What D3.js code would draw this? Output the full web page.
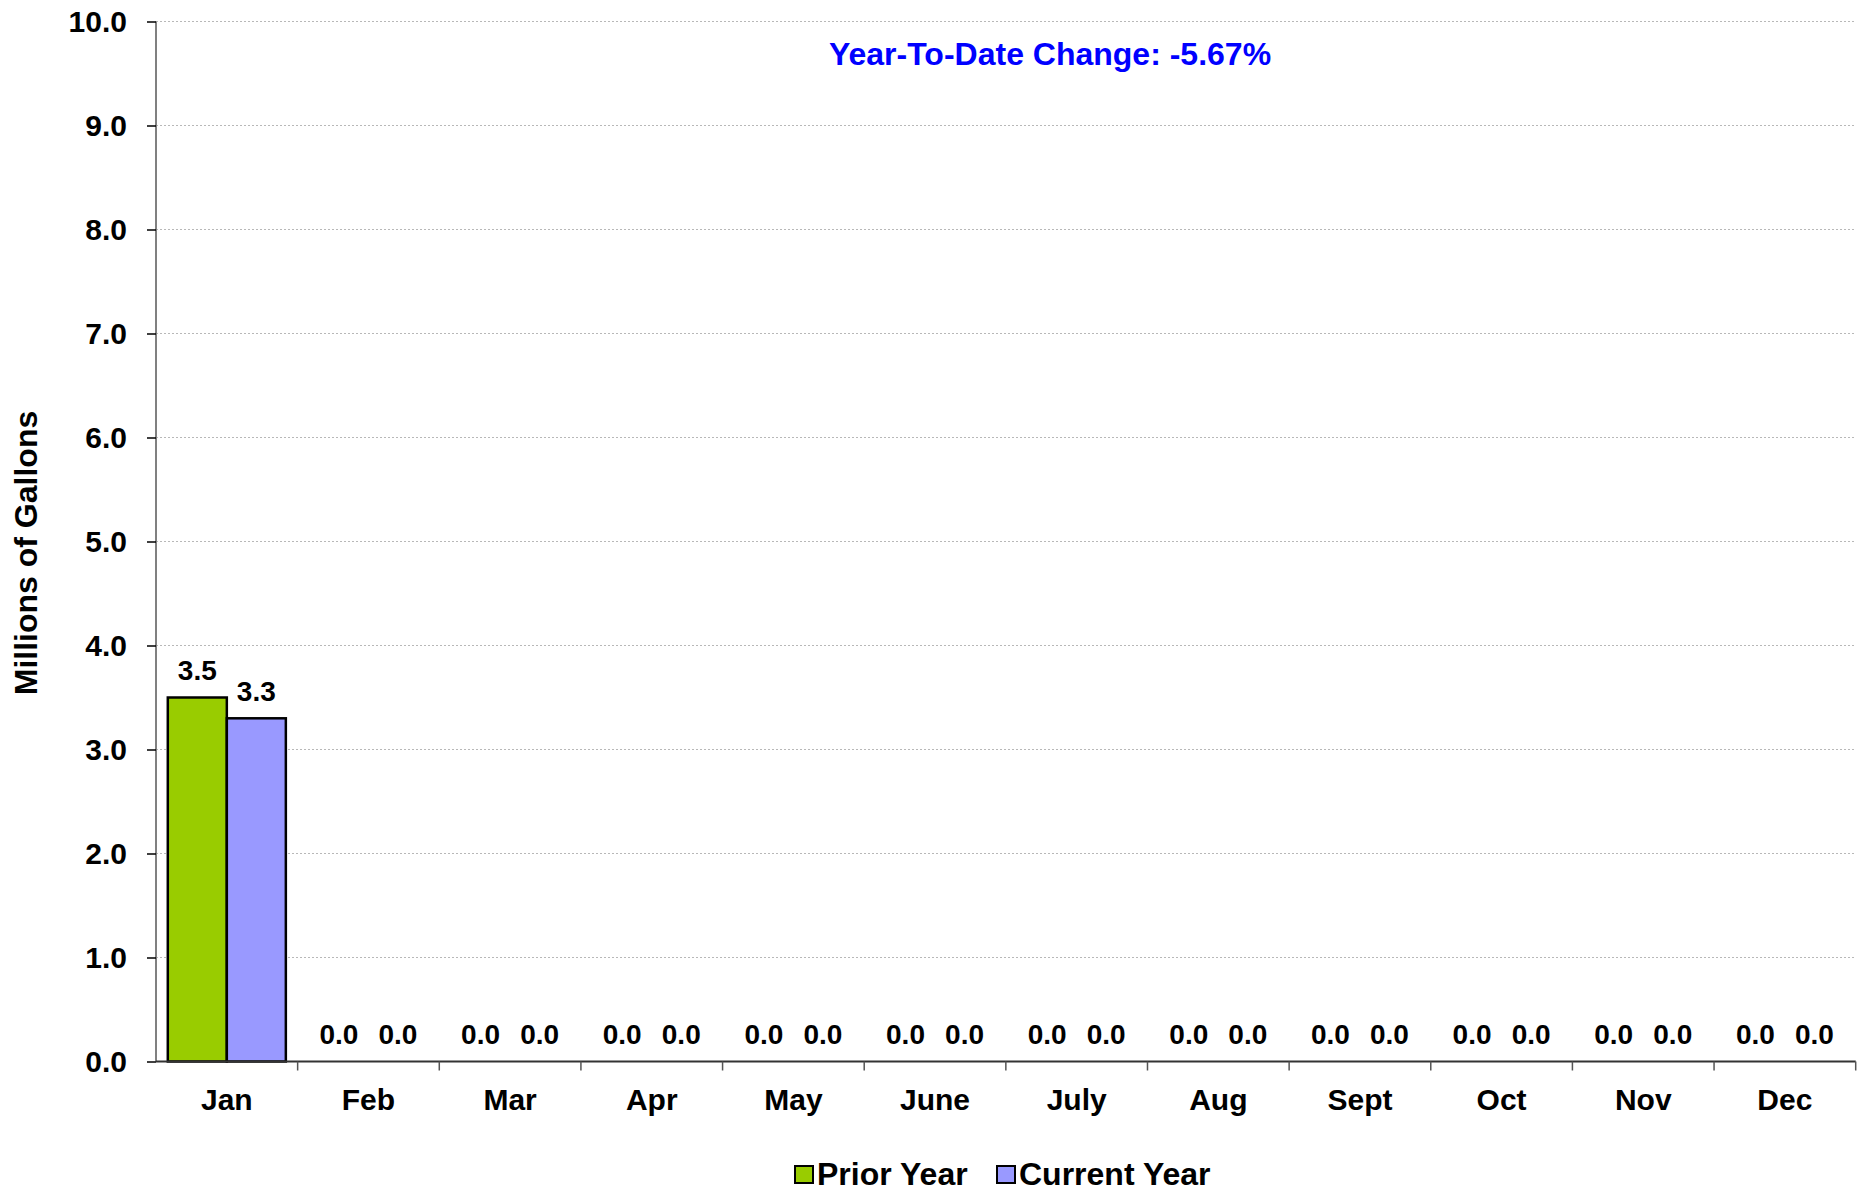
<!DOCTYPE html>
<html>
<head>
<meta charset="utf-8">
<script src="https://cdn.jsdelivr.net/npm/d3@7"></script>
<style>
  html, body { margin: 0; padding: 0; background: #fff; }
  svg { display: block; font-family: "Liberation Sans", Arial, sans-serif; font-weight: bold; }
</style>
</head>
<body>
<svg id="chart" width="1865" height="1192"></svg>
<script>
const months = ["Jan","Feb","Mar","Apr","May","June","July","Aug","Sept","Oct","Nov","Dec"];
const priorYear = [3.5,0,0,0,0,0,0,0,0,0,0,0];
const currentYear = [3.3,0,0,0,0,0,0,0,0,0,0,0];
const seriesNames = ["Prior Year","Current Year"];
const seriesColors = ["#99CC00","#9999FF"];
const yTicks = [0,1,2,3,4,5,6,7,8,9,10];
const titleText = "Year-To-Date Change: -5.67%";
const yTitle = "Millions of Gallons";

(function () {
const svg = d3.select("#chart");
const pLeft = 156, pRight = 1855.7, pTop = 21.5, pBottom = 1061.5;

const x = d3.scaleBand().domain(months).range([pLeft, pRight]).paddingInner(0).paddingOuter(0);
const groupPad = 11.8;
const xs = d3.scaleBand().domain(seriesNames).range([groupPad, x.bandwidth() - groupPad]).padding(0);
const y = d3.scaleLinear().domain([0, 10]).range([pBottom, pTop]);

// gridlines
svg.append("g").selectAll("line").data(yTicks.filter(d => d > 0)).join("line")
  .attr("x1", pLeft).attr("x2", pRight)
  .attr("y1", d => y(d)).attr("y2", d => y(d))
  .attr("stroke", "#b8b8b8").attr("stroke-width", 1).attr("stroke-dasharray", "2,2");

// bars
const data = months.map((m, i) => ({ m, vals: [priorYear[i], currentYear[i]] }));
const groups = svg.append("g").selectAll("g").data(data).join("g")
  .attr("transform", d => `translate(${x(d.m)},0)`);
groups.selectAll("rect").data(d => d.vals.map((v, j) => ({ v, s: seriesNames[j], c: seriesColors[j] })).filter(e => e.v > 0))
  .join("rect")
  .attr("x", d => xs(d.s)).attr("width", xs.bandwidth())
  .attr("y", d => y(d.v)).attr("height", d => y(0) - y(d.v))
  .attr("fill", d => d.c).attr("stroke", "#000").attr("stroke-width", 2.5);
groups.selectAll("text").data(d => d.vals.map((v, j) => ({ v, s: seriesNames[j] })))
  .join("text")
  .attr("x", d => xs(d.s) + xs.bandwidth() / 2)
  .attr("y", d => y(d.v) - 17.5)
  .attr("text-anchor", "middle").attr("font-size", 28).attr("fill", "#000")
  .text(d => d3.format(".1f")(d.v));

// y axis
const yAxis = svg.append("g").attr("transform", `translate(${pLeft},0)`)
  .call(d3.axisLeft(y).tickValues(yTicks).tickFormat(d3.format(".1f")).tickSize(9).tickPadding(20));
yAxis.select(".domain").attr("stroke", "#808080").attr("stroke-width", 2).attr("d", `M0,${pTop}V${pBottom}`);
yAxis.selectAll(".tick line").attr("stroke", "#000").attr("stroke-width", 1.5);
yAxis.selectAll(".tick text").attr("font-size", 30).attr("fill", "#000")
  .attr("font-family", "Liberation Sans, Arial, sans-serif").attr("font-weight", "bold");

// x axis
const xAxis = svg.append("g").attr("transform", `translate(0,${pBottom})`)
  .call(d3.axisBottom(x).tickSize(0).tickPadding(27));
xAxis.select(".domain").attr("stroke", "#333").attr("stroke-width", 2).attr("d", `M${pLeft},0H${pRight}`);
xAxis.selectAll(".tick text").attr("font-size", 30).attr("fill", "#000")
  .attr("font-family", "Liberation Sans, Arial, sans-serif").attr("font-weight", "bold")
  .attr("dy", "0.71em");
xAxis.append("g").selectAll("line").data(months.slice(1).concat(["__end"])).join("line")
  .attr("x1", d => d === "__end" ? pRight : x(d)).attr("x2", d => d === "__end" ? pRight : x(d))
  .attr("y1", 0).attr("y2", 9)
  .attr("stroke", "#555").attr("stroke-width", 1.5);

// title
svg.append("text").attr("x", 1050).attr("y", 65).attr("text-anchor", "middle")
  .attr("font-size", 32).attr("fill", "#0000FF").text(titleText);

// y title
svg.append("text").attr("transform", "translate(37,553) rotate(-90)")
  .attr("text-anchor", "middle").attr("font-size", 32).attr("fill", "#000").text(yTitle);

// legend
const legendItems = [
  { name: seriesNames[0], color: seriesColors[0], x: 795 },
  { name: seriesNames[1], color: seriesColors[1], x: 997 }
];
const lg = svg.append("g").selectAll("g").data(legendItems).join("g");
lg.append("rect").attr("x", d => d.x).attr("y", 1166).attr("width", 18).attr("height", 17)
  .attr("fill", d => d.color).attr("stroke", "#000").attr("stroke-width", 2);
lg.append("text").attr("x", d => d.x + 22).attr("y", 1185).attr("font-size", 32).attr("fill", "#000")
  .text(d => d.name);
})();
</script>
</body>
</html>
